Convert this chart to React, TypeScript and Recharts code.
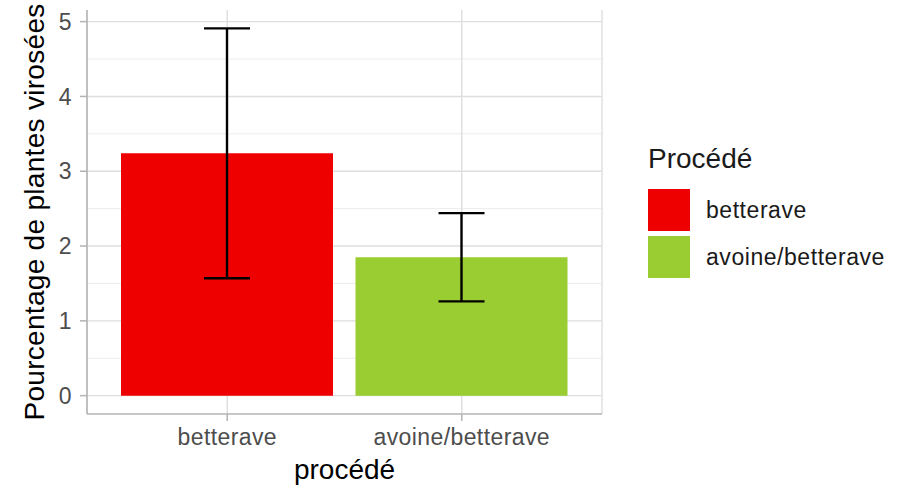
import React from "react";
import { BarChart, Bar, XAxis, YAxis, CartesianGrid, ErrorBar, Cell, Label } from "recharts";

const CATEGORIES = ["betterave", "avoine/betterave"];
const MEANS = [3.24, 1.85];
const LOWER = [1.57, 1.26];
const UPPER = [4.91, 2.44];
const COLORS = ["#EE0000", "#9ACD32"];
const Y_TICKS = [0, 1, 2, 3, 4, 5];
const Y_MINOR = [0.5, 1.5, 2.5, 3.5, 4.5];

const data = CATEGORIES.map((c, i) => ({
  procede: c,
  value: MEANS[i],
  err: [MEANS[i] - LOWER[i], UPPER[i] - MEANS[i]],
}));

const FRAME = "#b3b3b3";
const tickStyle = { fill: "#4d4d4d", fontSize: 23, letterSpacing: 0.4 };

function LegendBox() {
  return (
    <svg width={260} height={160} style={{ position: "absolute", left: 640, top: 130 }}>
      <text x={8} y={38} fontSize={28} fill="#1a1a1a">Procédé</text>
      {CATEGORIES.map((c, i) => (
        <g key={c}>
          <rect x={8} y={59 + i * 47} width={42} height={42} fill={COLORS[i]} />
          <text x={66} y={88 + i * 47} fontSize={23} fill="#1a1a1a" letterSpacing={0.55}>{c}</text>
        </g>
      ))}
    </svg>
  );
}

export default function App() {
  return (
    <div style={{ position: "absolute", left: 0, top: 0, width: 900, height: 485, background: "#fff", fontFamily: "'Liberation Sans', Arial, sans-serif" }}>
      <BarChart width={900} height={485} data={data} margin={{ top: 10, right: 298, bottom: 0, left: 0 }}>
        <CartesianGrid horizontalValues={Y_MINOR} vertical={false} stroke="#ececec" strokeWidth={1} />
        <CartesianGrid horizontalValues={Y_TICKS} stroke="#dedede" strokeWidth={1.4} />
        <XAxis
          dataKey="procede"
          height={71}
          interval={0}
          padding={{ left: 23, right: 23 }}
          tickSize={7}
          tickMargin={8}
          tick={tickStyle}
          axisLine={{ stroke: FRAME, strokeWidth: 1.5 }}
          tickLine={{ stroke: FRAME, strokeWidth: 1.5 }}
        >
          <Label value="procédé" position="insideBottom" offset={6} style={{ fontSize: 28, fill: "#000" }} />
        </XAxis>
        <XAxis xAxisId="top" dataKey="procede" orientation="top" height={0} tick={false} tickLine={false} axisLine={{ stroke: FRAME, strokeWidth: 1.5 }} />
        <YAxis
          domain={[-0.2455, 5.1555]}
          ticks={Y_TICKS}
          allowDataOverflow
          width={87}
          tickSize={7}
          tickMargin={8}
          tick={tickStyle}
          axisLine={{ stroke: FRAME, strokeWidth: 1.5 }}
          tickLine={{ stroke: FRAME, strokeWidth: 1.5 }}
        >
          <Label value="Pourcentage de plantes virosées" angle={-90} position="insideLeft" offset={34} style={{ fontSize: 28, fill: "#000", textAnchor: "middle", letterSpacing: 0.3 }} />
        </YAxis>
        <YAxis yAxisId="right" orientation="right" width={0} domain={[-0.2455, 5.1555]} tick={false} tickLine={false} axisLine={{ stroke: FRAME, strokeWidth: 1.5 }} />
        <Bar dataKey="value" barSize={212} isAnimationActive={false}>
          {data.map((d, i) => <Cell key={d.procede} fill={COLORS[i]} />)}
          <ErrorBar dataKey="err" width={23} stroke="#000" strokeWidth={2.4} isAnimationActive={false} />
        </Bar>
      </BarChart>
      <LegendBox />
    </div>
  );
}
